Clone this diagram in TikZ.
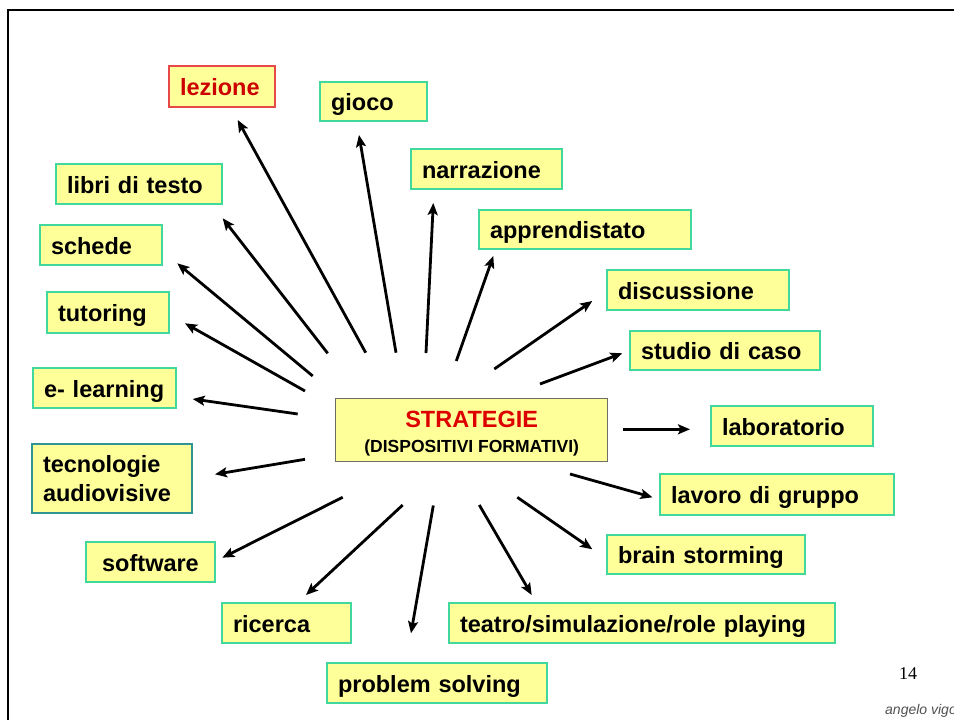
\documentclass[tikz,border=0pt]{standalone}
\usepackage{fontspec}
\setmainfont{Liberation Sans}
\newfontfamily\numfont{Liberation Serif}
\usetikzlibrary{arrows.meta}

\definecolor{boxfill}{HTML}{FFFF99}
\definecolor{boxedge}{HTML}{40D89C}
\definecolor{tealedge}{HTML}{2E9494}
\definecolor{centeredge}{HTML}{6E6E64}
\definecolor{lezedge}{HTML}{E84848}
\definecolor{lezred}{HTML}{CC0000}
\definecolor{strred}{HTML}{DD0000}
\definecolor{authgray}{HTML}{505050}

\begin{document}
\begin{tikzpicture}[x=1pt,y=-1pt,
  box/.style={draw=boxedge, fill=boxfill, line width=1.3pt, inner xsep=11pt,
    inner ysep=0pt, outer sep=0pt, align=left, anchor=north west,
    font=\fontsize{23.5}{29}\selectfont\bfseries},
  single/.style={box, text height=22pt, text depth=4pt},
  ray/.style={line width=2.8pt, -{Stealth[length=12pt,width=10pt,inset=2.5pt]}}]
\useasboundingbox (0,0) rectangle (954,720);
\clip (0,0) rectangle (954,720);

% slide frame
\draw[line width=2pt] (8,730) -- (8,10) -- (964,10);

% central node (baseline of a multi-line node is its last line)
\node[draw=centeredge, fill=boxfill, line width=1.3pt, minimum width=272pt,
  minimum height=63pt, anchor=north west, align=center, inner sep=0pt,
  text height=49pt, text depth=4pt,
  font=\bfseries\fontsize{17.5}{25}\selectfont] (strat) at (335,398)
  {{\fontsize{23.5}{25}\selectfont\color{strred}STRATEGIE}\\(DISPOSITIVI FORMATIVI)};

% strategy boxes
\node[single, draw=lezedge, text=lezred, text width=84pt, minimum height=41pt] (lez) at (169,66) {lezione};
\node[single, text width=85pt, minimum height=39pt] (gioco) at (320,82) {gioco};
\node[single, text width=144pt, minimum height=40pt] (libri) at (56,164) {libri di testo};
\node[single, text width=129pt, minimum height=40pt] (narr) at (411,149) {narrazione};
\node[single, text width=100pt, minimum height=40pt] (schede) at (40,225) {schede};
\node[single, text width=190pt, minimum height=39pt] (appr) at (479,210) {apprendistato};
\node[single, text width=160pt, minimum height=40pt] (disc) at (607,270) {discussione};
\node[single, text width=100pt, minimum height=41pt] (tut) at (47,292) {tutoring};
\node[single, text width=168pt, minimum height=39pt] (caso) at (630,331) {studio di caso};
\node[single, text width=121pt, minimum height=40pt] (elearn) at (33,368) {e-~learning};
\node[single, text width=140pt, minimum height=40pt] (lab) at (711,406) {laboratorio};
\node[box, draw=tealedge, text width=138pt, minimum height=69pt] (tecn) at (32,444) {tecnologie\\audiovisive};
\node[single, text width=212pt, minimum height=41pt] (grup) at (660,474) {lavoro di gruppo};
\node[single, align=center, text width=107pt, minimum height=40pt] (soft) at (86,542) {software};
\node[single, text width=176pt, minimum height=39pt] (brain) at (607,535) {brain storming};
\node[single, text width=107pt, minimum height=40pt] (ric) at (222,603) {ricerca};
\node[single, text width=364pt, minimum height=40pt] (teat) at (449,603) {teatro/simulazione/role playing};
\node[single, text width=198pt, minimum height=40pt] (prob) at (327,663) {problem solving};

% rays from the centre towards each strategy
\foreach \n/\sx/\sy/\tx/\ty in {
  lez/365.7/352.7/237.7/120,
  gioco/396/352.7/359/135,
  narr/426/353/433.3/203,
  appr/456.3/361/493.3/256,
  disc/494.3/369/592.3/301,
  caso/540/384/622.3/353.3,
  lab/623/429.3/690/429.3,
  grup/570/474/652.5/497.3,
  brain/517.3/497.3/592.3/549.3,
  teat/479.3/505/531.7/595,
  prob/433.3/505.5/411/633.3,
  ric/402.7/505/306/595,
  soft/342.7/497.3/222.3/557.7,
  tecn/305/459.3/215/474.3,
  elearn/297.7/414/192.7/399,
  tut/305/391/185/323.3,
  schede/312.7/376/177.3/263.3,
  libri/327.7/353.3/222.7/218.3}{
  \coordinate (s-\n) at (\sx,\sy);
  \coordinate (t-\n) at (\tx,\ty);
  \draw[ray] (s-\n) -- (t-\n);
}

% page number and footer
\node[font=\numfont\fontsize{18}{18}\selectfont, inner sep=0pt] (page) at (908,674) {14};
\node[anchor=west, font=\itshape\fontsize{14}{14}\selectfont, text=authgray, inner sep=0pt] (auth) at (885,711) {angelo vigo};
\end{tikzpicture}
\end{document}
